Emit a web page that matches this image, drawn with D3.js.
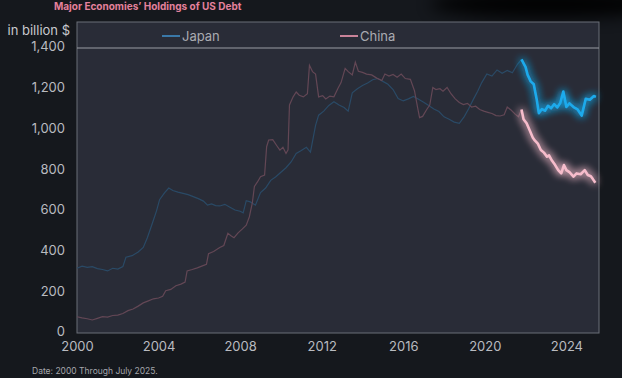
<!DOCTYPE html>
<html>
<head>
<meta charset="utf-8">
<script src="https://cdn.jsdelivr.net/npm/d3@7"></script>
<style>
  html, body { margin: 0; padding: 0; background: #15181d; }
  svg { display: block; font-family: Inter, "Noto Sans", sans-serif; }
</style>
</head>
<body>
<div id="chart"></div>
<script>
// holdings in billion $, [decimal year, value]
var japan = [
  [2000.0,318],[2000.25,328],[2000.5,322],[2000.75,326],[2001.0,316],[2001.25,312],[2001.5,305],[2001.75,318],
  [2002.0,314],[2002.25,326],[2002.4,372],[2002.7,380],[2003.0,398],[2003.25,420],[2003.45,468],[2003.7,540],
  [2003.9,600],[2004.05,655],[2004.3,690],[2004.5,712],[2004.7,700],[2004.95,692],[2005.2,686],[2005.45,680],
  [2005.7,670],[2005.95,660],[2006.2,648],[2006.4,628],[2006.6,634],[2006.8,626],[2007.0,624],[2007.25,632],
  [2007.5,618],[2007.75,604],[2008.0,598],[2008.15,590],[2008.3,650],[2008.5,644],[2008.75,628],[2009.0,690],
  [2009.25,712],[2009.5,750],[2009.75,768],[2010.0,790],[2010.25,812],[2010.5,840],[2010.75,882],[2011.0,896],
  [2011.25,912],[2011.45,888],[2011.7,1020],[2011.85,1070],[2012.1,1090],[2012.35,1118],[2012.6,1136],[2012.85,1120],
  [2013.1,1108],[2013.3,1090],[2013.5,1180],[2013.75,1200],[2014.0,1216],[2014.25,1228],[2014.5,1244],[2014.75,1250],
  [2015.0,1236],[2015.25,1222],[2015.5,1196],[2015.75,1152],[2016.0,1140],[2016.25,1150],[2016.5,1162],[2016.75,1148],
  [2017.0,1134],[2017.25,1118],[2017.5,1100],[2017.75,1088],[2018.0,1062],[2018.25,1050],[2018.5,1036],[2018.75,1030],
  [2019.0,1064],[2019.2,1100],[2019.45,1150],[2019.65,1188],[2019.85,1230],[2020.1,1272],[2020.35,1262],[2020.6,1292],
  [2020.85,1276],[2021.1,1290],[2021.35,1278],[2021.6,1320],[2021.8,1344],
  [2022.0,1306],[2022.1,1268],[2022.25,1236],[2022.4,1222],[2022.55,1144],[2022.65,1080],[2022.8,1100],[2022.95,1092],
  [2023.1,1116],[2023.25,1104],[2023.4,1124],[2023.55,1108],[2023.7,1130],[2023.85,1186],[2024.0,1110],[2024.15,1128],
  [2024.35,1110],[2024.55,1098],[2024.75,1068],[2024.95,1150],[2025.15,1146],[2025.35,1164],[2025.45,1160]
];

var china = [
  [2000.0,80],[2000.25,74],[2000.5,70],[2000.75,64],[2001.0,72],[2001.25,80],[2001.5,78],[2001.75,86],
  [2002.0,88],[2002.25,96],[2002.5,110],[2002.75,118],[2003.0,132],[2003.25,148],[2003.5,158],[2003.75,168],
  [2004.0,172],[2004.2,180],[2004.35,208],[2004.6,214],[2004.85,232],[2005.1,240],[2005.3,250],[2005.4,305],
  [2005.65,312],[2005.9,320],[2006.15,330],[2006.35,338],[2006.45,390],[2006.7,400],[2007.0,420],[2007.2,430],
  [2007.4,490],[2007.55,478],[2007.7,468],[2007.9,492],[2008.1,510],[2008.3,530],[2008.45,570],[2008.6,640],
  [2008.7,720],[2008.85,742],[2009.0,768],[2009.2,776],[2009.3,915],[2009.4,948],[2009.6,950],[2009.8,920],
  [2009.95,898],[2010.1,912],[2010.25,882],[2010.35,900],[2010.42,1120],[2010.6,1160],[2010.75,1184],[2010.9,1168],
  [2011.1,1160],[2011.3,1176],[2011.4,1315],[2011.55,1284],[2011.7,1272],[2011.85,1160],[2012.05,1166],[2012.2,1150],
  [2012.4,1164],[2012.6,1160],[2012.8,1202],[2012.95,1230],[2013.15,1300],[2013.3,1284],[2013.5,1268],[2013.65,1330],
  [2013.8,1286],[2014.0,1280],[2014.2,1272],[2014.45,1268],[2014.7,1252],[2014.95,1240],[2015.1,1272],[2015.3,1262],
  [2015.5,1270],[2015.7,1256],[2015.9,1272],[2016.1,1250],[2016.35,1246],[2016.55,1190],[2016.7,1110],[2016.8,1058],
  [2016.95,1064],[2017.15,1098],[2017.3,1120],[2017.45,1206],[2017.6,1196],[2017.8,1200],[2017.95,1188],[2018.15,1206],
  [2018.35,1174],[2018.55,1150],[2018.75,1132],[2018.95,1122],[2019.15,1128],[2019.35,1110],[2019.55,1114],[2019.75,1098],
  [2019.95,1090],[2020.15,1084],[2020.35,1078],[2020.55,1068],[2020.75,1066],[2020.95,1072],[2021.1,1110],[2021.3,1094],
  [2021.5,1074],[2021.65,1062],[2021.8,1098],
  [2021.9,1050],[2022.05,1030],[2022.2,996],[2022.35,960],[2022.45,946],[2022.6,930],[2022.75,899],[2022.9,886],
  [2023.05,866],[2023.15,872],[2023.3,846],[2023.45,825],[2023.6,800],[2023.75,784],[2023.88,825],[2024.0,800],
  [2024.15,790],[2024.35,768],[2024.5,784],[2024.7,780],[2024.9,800],[2025.05,776],[2025.2,770],[2025.3,756],[2025.42,738]
];

var highlightFrom = 2021.8;
var xTicks = [2000, 2004, 2008, 2012, 2016, 2020, 2024];
var yTicks = [0, 200, 400, 600, 800, 1000, 1200, 1400];

var W = 622, H = 378;
var margin = {left: 77, right: 599, top: 48, bottom: 333};

var svg = d3.select("#chart").append("svg")
    .attr("width", W)
    .attr("height", H);

var defs = svg.append("defs");
var glow = defs.append("filter").attr("id", "glow")
    .attr("x", "-20%").attr("y", "-20%").attr("width", "140%").attr("height", "140%");
glow.append("feGaussianBlur").attr("in", "SourceGraphic").attr("stdDeviation", 4).attr("result", "b");
var merge = glow.append("feMerge");
merge.append("feMergeNode").attr("in", "b");
merge.append("feMergeNode").attr("in", "b");
merge.append("feMergeNode").attr("in", "SourceGraphic");

var soft = defs.append("filter").attr("id", "soft")
    .attr("x", "-50%").attr("y", "-200%").attr("width", "200%").attr("height", "500%");
soft.append("feGaussianBlur").attr("stdDeviation", 8);

// dark smudge on the top right
svg.append("ellipse")
    .attr("cx", 550).attr("cy", 4).attr("rx", 120).attr("ry", 14)
    .attr("fill", "#000").attr("opacity", 0.9)
    .attr("filter", "url(#soft)");

var x = d3.scaleLinear().domain([2000, 2025.6]).range([margin.left, margin.right]);
var y = d3.scaleLinear().domain([0, 1400]).range([margin.bottom, margin.top]);

// plot panel + legend strip
svg.append("rect")
    .attr("x", margin.left).attr("y", 22)
    .attr("width", margin.right - margin.left).attr("height", margin.bottom - 22)
    .attr("fill", "#292c37")
    .attr("stroke", "#6b6e78").attr("stroke-width", 1);
svg.append("line")
    .attr("x1", margin.left).attr("x2", margin.right)
    .attr("y1", y(1400)).attr("y2", y(1400))
    .attr("stroke", "#9a9ca4").attr("stroke-width", 1);

// title and unit
svg.append("text")
    .attr("x", 54).attr("y", 10)
    .attr("fill", "#e4819c")
    .attr("font-size", 10).attr("font-weight", "bold")
    .text("Major Economies\u2019 Holdings of US Debt");
svg.append("text")
    .attr("x", 70).attr("y", 35)
    .attr("text-anchor", "end")
    .attr("fill", "#c9cace")
    .attr("font-size", 13)
    .text("in billion $");

// y axis labels
var yAxis = svg.append("g")
    .attr("transform", "translate(" + (margin.left - 12) + ",0)")
    .call(d3.axisLeft(y).tickValues(yTicks).tickSize(0).tickPadding(0).tickFormat(d3.format(",")));
yAxis.select(".domain").remove();
yAxis.selectAll("text")
    .attr("fill", "#b9bbc0").attr("font-size", 13)
    .attr("font-family", "Inter, 'Noto Sans', sans-serif")
    .attr("dy", "0.22em");

// x axis labels
var xAxis = svg.append("g")
    .attr("transform", "translate(0," + (margin.bottom + 9) + ")")
    .call(d3.axisBottom(x).tickValues(xTicks).tickSize(0).tickPadding(0).tickFormat(d3.format("d")));
xAxis.select(".domain").remove();
xAxis.selectAll("text")
    .attr("fill", "#b9bbc0").attr("font-size", 13)
    .attr("font-family", "Inter, 'Noto Sans', sans-serif");

// lines
var line = d3.line()
    .x(function(d) { return x(d[0]); })
    .y(function(d) { return y(d[1]); });

var series = [
  {name: "Japan", data: japan, dim: "#2a4a66", bright: "#1eaaec", key: "#3a78a8"},
  {name: "China", data: china, dim: "#634755", bright: "#f6bccb", key: "#c98399"}
];

series.forEach(function(s) {
  svg.append("path")
      .datum(s.data.filter(function(d) { return d[0] <= highlightFrom; }))
      .attr("d", line)
      .attr("fill", "none")
      .attr("stroke", s.dim)
      .attr("stroke-width", 1.2);
});

series.forEach(function(s) {
  svg.append("path")
      .datum(s.data.filter(function(d) { return d[0] >= highlightFrom; }))
      .attr("d", line)
      .attr("fill", "none")
      .attr("stroke", s.bright)
      .attr("stroke-width", 2.6)
      .attr("stroke-linejoin", "round")
      .attr("filter", "url(#glow)");
});

// legend
var legendX = [162, 340];
series.forEach(function(s, i) {
  var g = svg.append("g").attr("transform", "translate(" + legendX[i] + ",36)");
  g.append("line").attr("x1", 0).attr("x2", 18)
      .attr("stroke", s.key).attr("stroke-width", 2);
  g.append("text").attr("x", 20).attr("y", 5)
      .attr("fill", "#a9abb1").attr("font-size", 13)
      .text(s.name);
});

// footer
svg.append("text")
    .attr("x", 32).attr("y", 374)
    .attr("fill", "#a4a6ab")
    .attr("font-size", 8.5)
    .text("Date: 2000 Through July 2025.");
</script>
</body>
</html>
